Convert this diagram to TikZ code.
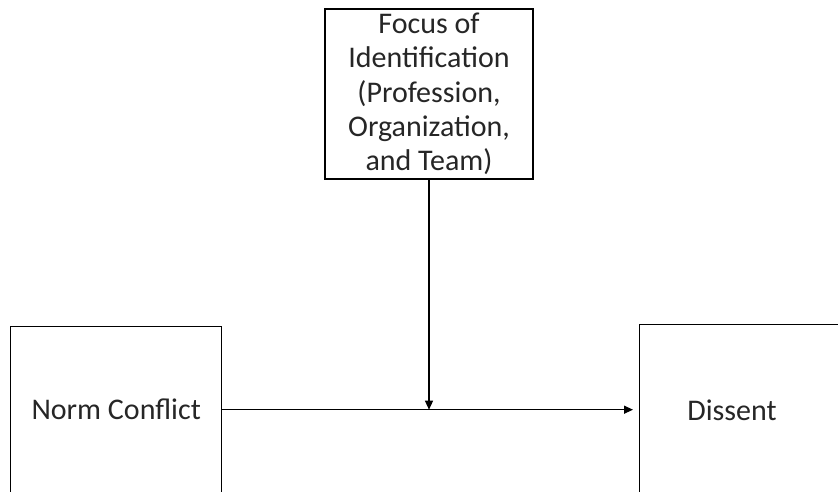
\documentclass[tikz,border=0pt]{standalone}
\usepackage{fontspec}
\setmainfont{Carlito}
\usepackage{xcolor}
\usepackage{tikz}
\usetikzlibrary{arrows.meta}

\begin{document}
\begin{tikzpicture}[x=1pt, y=1pt, font=\fontsize{30}{34.3}\selectfont, text=black!85,
	box/.style={draw, line width=1.4pt, inner sep=0pt, align=center},
	arr/.style={line width=1.3pt, -{Triangle[length=9pt, width=8pt]}}]
	\useasboundingbox (0,0) rectangle (838,492);
	\clip (0,0) rectangle (838,492);
	\node[box, minimum width=208, minimum height=170] (focus) at (429,398) {Focus of\\Identification\\(Profession,\\Organization,\\and Team)};
	\node[box, minimum width=211, minimum height=166, anchor=north west] (norm) at (10,166) {Norm Conflict};
	\node[box, minimum width=240, minimum height=168, anchor=north west] (dissent) at (639,168) {};
	\node (dissenttext) at (732,82) {Dissent};
	\coordinate (join) at (focus.south |- norm.east);
	\draw[arr] (norm.east) -- ([xshift=-6pt]norm.east -| dissent.west);
	\draw[arr] (focus.south) -- (join);
\end{tikzpicture}
\end{document}
